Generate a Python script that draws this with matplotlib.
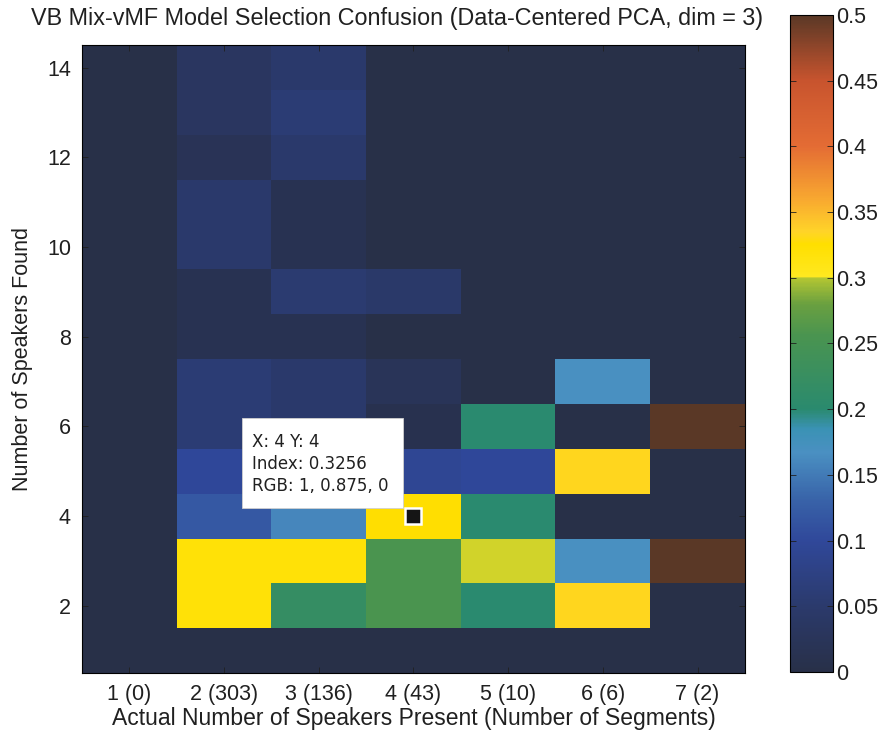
import numpy as np
import matplotlib
matplotlib.use("Agg")
import matplotlib.pyplot as plt
from matplotlib.colors import LinearSegmentedColormap
from matplotlib.patches import Rectangle

plt.rcParams['font.family'] = ['Liberation Sans', 'DejaVu Sans']

# actual number of speakers in a segment, and how many segments had that many
actual_speakers = [1, 2, 3, 4, 5, 6, 7]
segment_counts = [0, 303, 136, 43, 10, 6, 2]
found_speakers = np.arange(1, 15)

# fraction of segments (per actual count) for which VB found k speakers
# rows: found = 1..14, columns: actual = 1..7
confusion = [
    [0, 0.00, 0.00, 0.000, 0.0, 0.000, 0.0],
    [0, 0.32, 0.22, 0.256, 0.2, 0.333, 0.0],
    [0, 0.32, 0.32, 0.256, 0.3, 0.167, 0.5],
    [0, 0.12, 0.16, 0.3256, 0.2, 0.000, 0.0],
    [0, 0.10, 0.07, 0.093, 0.1, 0.333, 0.0],
    [0, 0.06, 0.05, 0.010, 0.2, 0.000, 0.5],
    [0, 0.06, 0.05, 0.023, 0.0, 0.167, 0.0],
    [0, 0.015, 0.015, 0.000, 0.0, 0.000, 0.0],
    [0, 0.015, 0.055, 0.047, 0.0, 0.000, 0.0],
    [0, 0.05, 0.015, 0.000, 0.0, 0.000, 0.0],
    [0, 0.05, 0.015, 0.000, 0.0, 0.000, 0.0],
    [0, 0.02, 0.05, 0.000, 0.0, 0.000, 0.0],
    [0, 0.035, 0.06, 0.000, 0.0, 0.000, 0.0],
    [0, 0.035, 0.05, 0.000, 0.0, 0.000, 0.0],
]

tip_x, tip_y = 4, 4
tip_index = 0.3256
tip_rgb = '1, 0.875, 0'

# dark blue -> green, hard jump to yellow at 0.3, then orange -> brown
cmap_nodes = [
    (0.000, '#283048'),
    (0.100, '#2b3a6c'),
    (0.200, '#30489a'),
    (0.260, '#3862a8'),
    (0.334, '#4a90c2'),
    (0.370, '#3a92b4'),
    (0.400, '#2a8a6e'),
    (0.512, '#4a9450'),
    (0.560, '#6aa040'),
    (0.600, '#b4c632'),
    (0.602, '#ffe820'),
    (0.651, '#ffdf00'),
    (0.670, '#ffd428'),
    (0.720, '#f8a830'),
    (0.800, '#e46c34'),
    (0.900, '#c8542e'),
    (1.000, '#5a3826'),
]
cmap = LinearSegmentedColormap.from_list('speakers', cmap_nodes, N=512)

fig = plt.figure(figsize=(8.85, 7.31), dpi=100)
ax = fig.add_axes([0.0927, 0.0793, 0.749, 0.859])
cax = fig.add_axes([0.8927, 0.0807, 0.0486, 0.899])

data = np.array(confusion)
im = ax.imshow(data, cmap=cmap, vmin=0, vmax=0.5, origin='lower', aspect='auto',
               interpolation='nearest',
               extent=[actual_speakers[0] - 0.5, actual_speakers[-1] + 0.5,
                       found_speakers[0] - 0.5, found_speakers[-1] + 0.5])

ax.set_xticks(actual_speakers)
ax.set_xticklabels([f'{a} ({n})' for a, n in zip(actual_speakers, segment_counts)])
ax.set_yticks(found_speakers[1::2])
ax.tick_params(direction='in', top=True, right=True, length=4, width=0.6,
               labelsize=15.5, color='#202020', labelcolor='#202020', pad=8)
ax.set_xlabel('Actual Number of Speakers Present (Number of Segments)',
              fontsize=16.5, color='#202020', labelpad=1)
ax.set_ylabel('Number of Speakers Found', fontsize=15.5, color='#202020', labelpad=10)
fig.text(0.449, 0.975,
         'VB Mix-vMF Model Selection Confusion (Data-Centered PCA, dim = 3)',
         fontsize=16.8, color='#202020', ha='center', va='center')
for s in ax.spines.values():
    s.set_linewidth(0.8)

# data tip box
ax.add_patch(Rectangle((2.19, 4.18), 1.70, 2.01, facecolor='white',
                       edgecolor='#d0d0d0', linewidth=0.6, zorder=3))
ax.text(2.29, 5.16, f'X: {tip_x} Y: {tip_y}\nIndex: {tip_index}\nRGB: {tip_rgb}',
        family='DejaVu Sans', fontsize=12, color='#202020', va='center', ha='left',
        linespacing=1.3, zorder=4)
ax.plot([tip_x], [tip_y], marker='s', markersize=11, color='#151515',
        markeredgecolor='white', markeredgewidth=1.8, zorder=5)

cb = fig.colorbar(im, cax=cax, ticks=np.arange(0, 0.51, 0.05))
cb.ax.set_yticklabels(['0', '0.05', '0.1', '0.15', '0.2', '0.25', '0.3', '0.35',
                       '0.4', '0.45', '0.5'])
cb.ax.tick_params(direction='in', left=True, right=True, length=4, width=0.6,
                  labelsize=15.5, color='#202020', labelcolor='#202020', pad=2)
cb.outline.set_linewidth(0.8)

fig.savefig('out.png', dpi=100, facecolor='white')
